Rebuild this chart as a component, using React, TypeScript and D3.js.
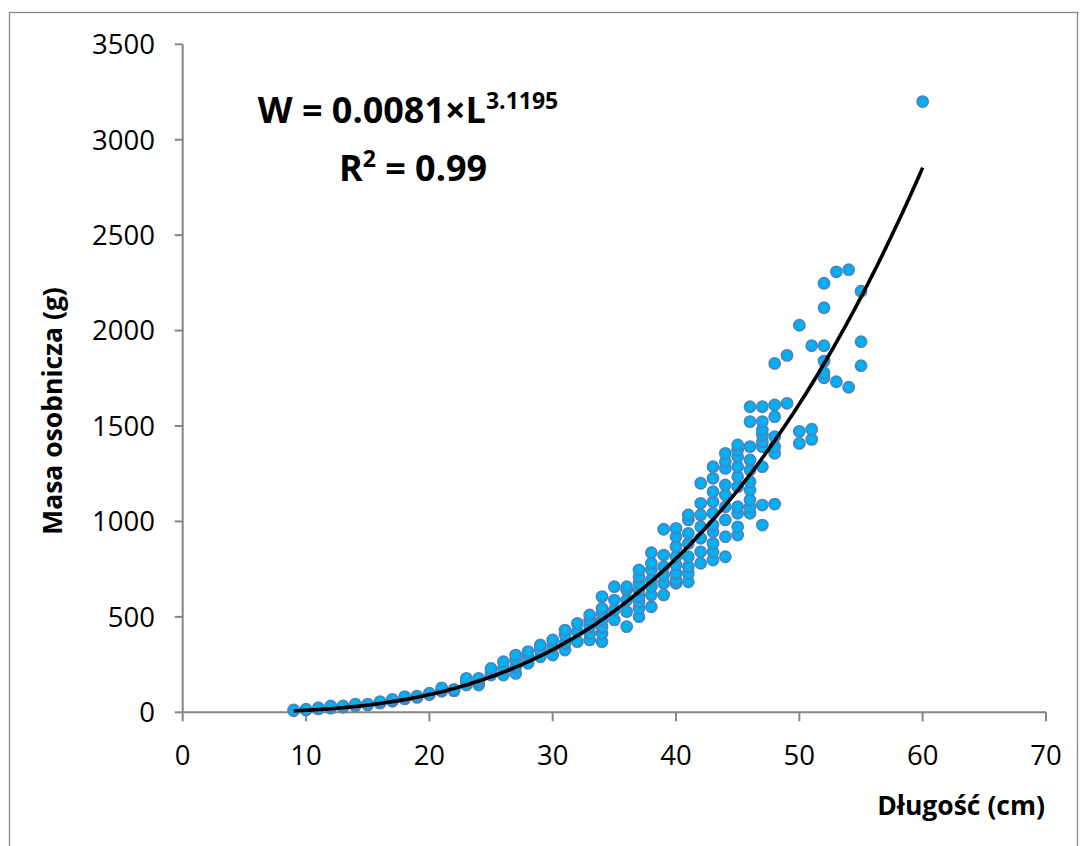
import * as d3 from "d3";

// body length (cm) -> masses (g) of the fish measured at that length
const lengths = [9, 10, 11, 12, 13, 14, 15, 16, 17, 18, 19, 20, 21, 22, 23, 24, 25, 26, 27, 28, 29, 30,
  31, 32, 33, 34, 35, 36, 37, 38, 39, 40, 41, 42, 43, 44, 45, 46, 47, 48, 49, 50, 51, 52, 53, 54, 55, 60];
const masses = [
  [8, 12], [12, 16], [18, 24], [22, 33], [26, 33], [33, 43], [38, 43], [48, 56], [58, 68], [70, 82],
  [78, 85], [92, 100], [110, 120, 128], [112, 120], [143, 160, 178], [143, 160, 178], [195, 213, 230],
  [195, 230, 265], [204, 239, 274, 300], [257, 291, 318], [291, 326, 353], [300, 344, 379],
  [326, 362, 405, 431], [370, 422, 466], [379, 414, 449, 484, 510], [370, 414, 449, 484, 519, 545, 606],
  [484, 536, 588, 658], [449, 527, 588, 641, 658], [501, 545, 580, 606, 641, 676, 710, 746],
  [553, 615, 658, 693, 746, 781, 836], [615, 676, 719, 763, 824, 959],
  [676, 693, 728, 772, 815, 868, 920, 964], [684, 728, 763, 815, 885, 938, 1008, 1034],
  [781, 841, 912, 972, 1034, 1095, 1200], [798, 841, 885, 946, 981, 1043, 1103, 1156, 1226, 1287],
  [815, 920, 1008, 1077, 1139, 1191, 1278, 1313, 1357],
  [929, 972, 1043, 1077, 1182, 1234, 1287, 1339, 1374, 1401],
  [1043, 1077, 1112, 1165, 1208, 1270, 1322, 1392, 1523, 1601],
  [981, 1086, 1287, 1392, 1418, 1453, 1479, 1523, 1601], [1091, 1357, 1392, 1444, 1549, 1610, 1828],
  [1619, 1870], [1409, 1472, 2028], [1430, 1483, 1921], [1753, 1779, 1840, 1921, 2120, 2248],
  [1732, 2308], [1703, 2319], [1816, 1942, 2206], [3200],
];

// power trendline  W = a * L^b
const fitA = 0.0081;
const fitB = 3.1195;
const fitFrom = 9;
const fitTo = 60;

const xTicks = [0, 10, 20, 30, 40, 50, 60, 70];
const yTicks = [0, 500, 1000, 1500, 2000, 2500, 3000, 3500];

export default function App() {
  const width = 1080;
  const height = 846;
  const x = d3.scaleLinear([0, 70], [182.7, 1046]);
  const y = d3.scaleLinear([0, 3500], [712.3, 44.3]);

  const points = lengths.flatMap((l, i) => masses[i].map(m => [l, m]));

  const fitPts = d3.range(fitFrom, fitTo + 0.001, 0.25).map(l => [l, fitA * Math.pow(l, fitB)]);
  const fitLine = d3.line().x(d => x(d[0])).y(d => y(d[1]))(fitPts);

  const axisColor = "#868686";
  const font = "'Open Sans', 'Noto Sans', sans-serif";

  return (
    <svg width={width} height={height} style={{ position: "absolute", left: 0, top: 0, background: "#fff" }}
      fontFamily={font}>
      <rect x={9.5} y={12.5} width={1068} height={850} fill="#fff" stroke={axisColor} strokeWidth={1.3} />

      {/* axes */}
      <line x1={x(0)} x2={x(0)} y1={y(3500)} y2={y(0)} stroke={axisColor} strokeWidth={2} />
      <line x1={x(0)} x2={x(70)} y1={y(0)} y2={y(0)} stroke={axisColor} strokeWidth={2} />
      {yTicks.map(t => (
        <g key={"y" + t}>
          <line x1={x(0) - 8} x2={x(0)} y1={y(t)} y2={y(t)} stroke={axisColor} strokeWidth={2} />
          <text x={155} y={y(t)} dy="0.36em" textAnchor="end" fontSize={27.5} fill="#000">{t}</text>
        </g>
      ))}
      {xTicks.map(t => (
        <g key={"x" + t}>
          <line x1={x(t)} x2={x(t)} y1={y(0)} y2={y(0) + 9} stroke={axisColor} strokeWidth={2} />
          <text x={x(t)} y={765} textAnchor="middle" fontSize={27.5} fill="#000">{t}</text>
        </g>
      ))}

      {/* data points */}
      <g>
        {points.map((p, i) => (
          <circle key={i} cx={x(p[0])} cy={y(p[1])} r={5.6} fill="#00B0F0" stroke="#4F81BD" strokeWidth={1.6} />
        ))}
      </g>

      {/* trendline */}
      <path d={fitLine} fill="none" stroke="#000" strokeWidth={3.6} strokeLinejoin="round" />

      {/* equation */}
      <text x={408} y={123} textAnchor="middle" fontWeight="bold" fontSize={36} fill="#000">
        W = 0.0081×L<tspan fontSize={23} dy={-14}>3.1195</tspan>
      </text>
      <text x={413} y={181} textAnchor="middle" fontWeight="bold" fontSize={36} fill="#000">
        R<tspan fontSize={23} dy={-14}>2</tspan><tspan dy={14}> = 0.99</tspan>
      </text>

      {/* axis titles */}
      <text x={1045} y={815} textAnchor="end" fontWeight="bold" fontSize={26.5} fill="#000">Długość (cm)</text>
      <text transform="translate(62,411) rotate(-90)" textAnchor="middle" fontWeight="bold" fontSize={26.5}
        fill="#000">Masa osobnicza (g)</text>
    </svg>
  );
}
